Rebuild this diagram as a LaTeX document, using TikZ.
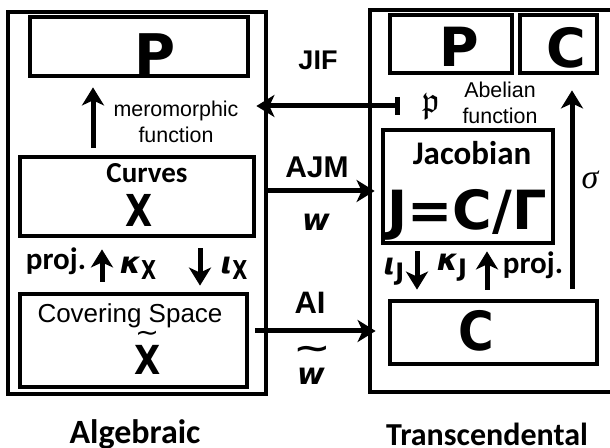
\documentclass[tikz,border=0pt]{standalone}
\usepackage{fontspec}
\usepackage{amssymb}
\setmainfont{Liberation Sans}
\newfontfamily\headfont{Carlito}
\newfontfamily\symfont{DejaVu Sans}
\newfontfamily\serifit{Liberation Serif}
\usetikzlibrary{arrows.meta}
\newcommand\fs[1]{\fontsize{#1}{#1}\selectfont}

\begin{document}
\begin{tikzpicture}[x=0.5pt,y=-0.5pt,
  box/.style={draw, line width=2.4pt, inner sep=0pt},
  arr/.style={line width=2.5pt, -{Stealth[length=9pt,width=11pt,inset=2.5pt]}},
  lbl/.style={inner sep=0pt},
  head/.style={lbl, font=\headfont\bfseries\fs{15}},
  glyph/.style={lbl, font=\symfont\bfseries},
  twoline/.style={lbl, align=center, font={\fontsize{10.7}{13}\selectfont}}]
\clip (0,0) rectangle (610,448);
\fill[white] (0,0) rectangle (610,448);

% ---------- algebraic side ----------
\node[box, minimum width=129pt, minimum height=191pt] (leftouter) at (137,203) {};
\node[box, minimum width=109pt, minimum height=29.5pt] (Ptop) at (139,46.5) {};
\node[box, minimum width=117pt, minimum height=39.5pt] (curves) at (137,196.5) {};
\node[box, minimum width=113.5pt, minimum height=46.5pt] (cover) at (133.5,340.5) {};

\node[glyph, font=\symfont\bfseries\fs{28}] (Pl) at (155,54) {P};
\node[twoline] (mero) at (176,122) {meromorphic\\function};
\node[head, font=\headfont\bfseries\fs{14.5}] (curvestxt) at (147,173) {Curves};
\node[glyph] (Xc) at (139,210) {\scalebox{0.8}[1]{\fs{22}X}};
\node[lbl, font=\fs{13}] (covtxt) at (130,316) {Covering Space};
\node[glyph] (Xt) at (148,360) {\scalebox{0.85}[1]{\fs{20}X}};
\node[lbl, font=\symfont\fs{13}] (Xtld) at (147,336) {\scalebox{1.1}[1]{\char"007E}};

\node[head, font=\headfont\bfseries\fs{15.5}] (projl) at (56,261) {proj.};
\node[glyph] (kx) at (138,268) {{\itshape\fs{15}κ}\raisebox{-3pt}{\scalebox{0.75}[1]{\fs{13}X}}};
\node[glyph] (ix) at (234,268) {{\itshape\fs{15}ι}\raisebox{-3pt}{\scalebox{0.75}[1]{\fs{13}X}}};

\node[head, font=\headfont\bfseries\fs{17}] (alg) at (135,434) {Algebraic};

% ---------- transcendental side ----------
\node[box, minimum width=140pt, minimum height=191pt] (rightouter) at (510,201) {};
\node[box, minimum width=61pt, minimum height=29pt] (Pright) at (451,44) {};
\node[box, minimum width=38.5pt, minimum height=29pt] (Cright) at (558.5,44) {};
\node[box, minimum width=85pt, minimum height=56.5pt] (jac) at (468,186.5) {};
\node[box, minimum width=103.5pt, minimum height=31.5pt] (Cbot) at (493.5,332.5) {};

\node[glyph, font=\symfont\bfseries\fs{27}] (Pr) at (459,47) {P};
\node[glyph, font=\symfont\bfseries\fs{27}] (Cr) at (566,48) {C};
\node[lbl, font=\fs{18}] (pfrak) at (431,106) {$\mathfrak{p}$};
\node[twoline] (abel) at (500,103) {Abelian\\function};
\node[head, font=\headfont\bfseries\fs{16.5}] (jactxt) at (472,153) {Jacobian};
\node[glyph, font=\symfont\bfseries\fs{27}] (jeq) at (467,215) {J=C/Γ};
\node[glyph] (Cb) at (476,331) {\scalebox{0.9}[1]{\fs{27}C}};

\node[glyph] (ij) at (394,272) {{\itshape\fs{15}ι}\raisebox{-3pt}{\fs{12}J}};
\node[glyph] (kj) at (452,268) {{\itshape\fs{15}κ}\raisebox{-3pt}{\fs{12}J}};
\node[head, font=\headfont\bfseries\fs{15.5}] (projr) at (533,265) {proj.};
\node[lbl, font=\serifit\itshape\fs{17}] (sig) at (590,180) {σ};

\node[head, font=\headfont\bfseries\fs{16}] (trans) at (487,434) {Transcendental};

% ---------- connecting maps ----------
\node[lbl, font=\bfseries\fs{13.5}] (jif) at (318,60) {JIF};
\node[lbl, font=\bfseries\fs{15}] (ajm) at (317,167) {AJM};
\node[glyph, font=\symfont\bfseries\itshape\fs{15}] (w) at (316,222) {w};
\node[lbl, font=\bfseries\fs{15.5}] (ai) at (310,303) {AI};
\node[glyph, font=\symfont\bfseries\itshape\fs{15}] (wt) at (311,376) {w};
\node[glyph, font=\symfont\bfseries\fs{15}] (wtld) at (312,352) {\scalebox{1.5}[1]{\char"007E}};

\coordinate (ajmy) at (0,191);
\coordinate (aiy) at (0,331);
\coordinate (mx) at (93,0);
\coordinate (kxx) at (102,0);
\coordinate (ixx) at (200,0);
\coordinate (ijx) at (417,0);
\coordinate (kjx) at (487,0);
\coordinate (sx) at (572,0);

\draw[arr, shorten <=3.5pt, shorten >=4.5pt] (curves.north -| mx) -- (Ptop.south -| mx);
\draw[line width=2.5pt, {Bar[width=9pt]}-{Stealth[length=9pt,width=11pt,inset=2.5pt]},
      shorten <=11pt, shorten >=-6pt] (pfrak.west) -- (pfrak.west -| leftouter.east);
\draw[arr, shorten <=-2pt, shorten >=-3.5pt] (leftouter.east |- ajmy) -- (rightouter.west |- ajmy);
\draw[arr, shorten <=3pt, shorten >=-4pt] (cover.east |- aiy) -- (rightouter.west |- aiy);

\draw[arr, shorten <=5pt, shorten >=5.5pt] (cover.north -| kxx) -- (curves.south -| kxx);
\draw[arr, shorten <=5pt, shorten >=3pt] (curves.south -| ixx) -- (cover.north -| ixx);
\draw[arr, shorten <=3pt, shorten >=4.5pt] (jac.south -| ijx) -- (Cbot.north -| ijx);
\draw[arr, shorten <=4.5pt, shorten >=3pt] (Cbot.north -| kjx) -- (jac.south -| kjx);
\draw[arr, shorten <=5pt, shorten >=7.5pt] (Cbot.north -| sx) -- (Cright.south -| sx);
\end{tikzpicture}
\end{document}
